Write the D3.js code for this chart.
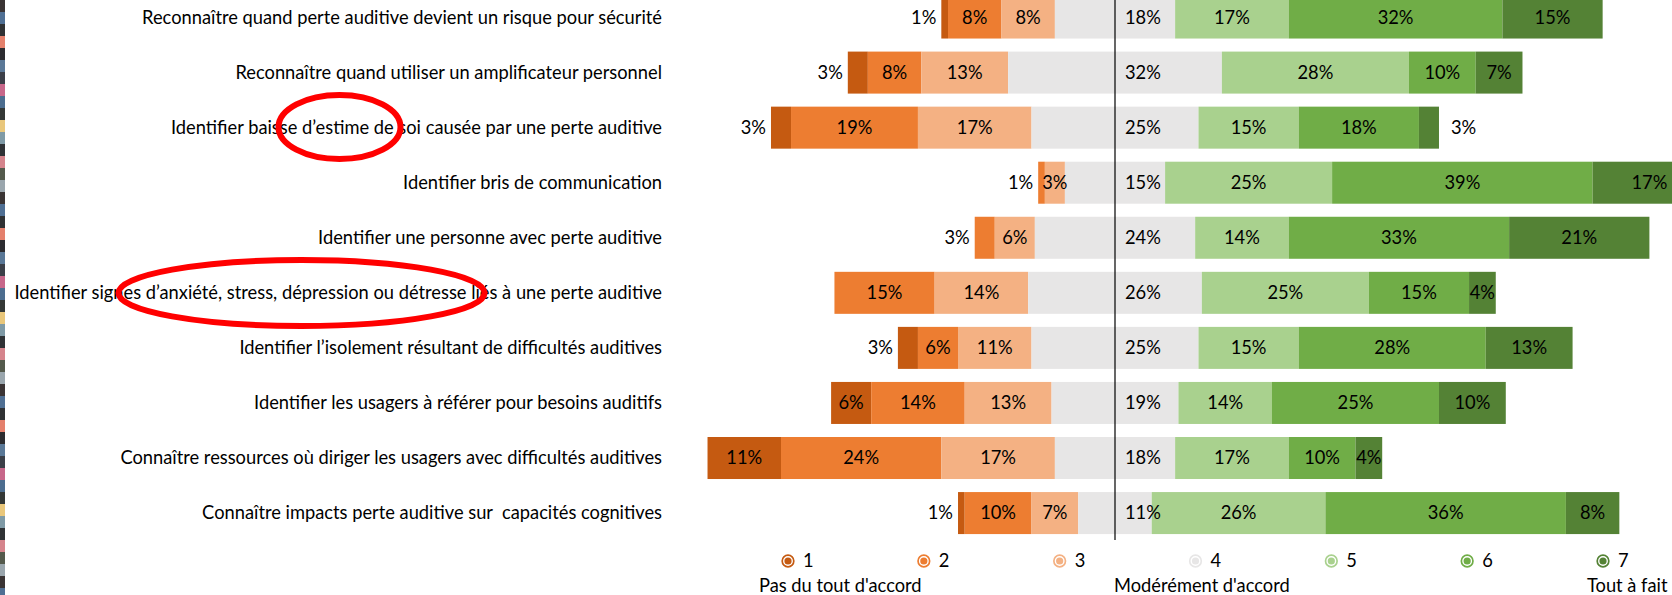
<!DOCTYPE html>
<html>
<head>
<meta charset="utf-8">
<script src="https://cdn.jsdelivr.net/npm/d3@7"></script>
<style>
  body { margin: 0; background: #fff; }
  svg { display: block; font-family: Lato, "Open Sans", sans-serif; }
</style>
</head>
<body>
<div id="chart"></div>
<script>
// categories, top to bottom
var categories = [
  "Reconnaître quand perte auditive devient un risque pour sécurité",
  "Reconnaître quand utiliser un amplificateur personnel",
  "Identifier baisse d’estime de soi causée par une perte auditive",
  "Identifier bris de communication",
  "Identifier une personne avec perte auditive",
  "Identifier signes d’anxiété, stress, dépression ou détresse liés à une perte auditive",
  "Identifier l’isolement résultant de difficultés auditives",
  "Identifier les usagers à référer pour besoins auditifs",
  "Connaître ressources où diriger les usagers avec difficultés auditives",
  "Connaître impacts perte auditive sur  capacités cognitives"
];

// % of answers for each level of the 1-7 scale
var level1 = [1, 3, 3, 0, 0, 0, 3, 6, 11, 1];
var level2 = [8, 8, 19, 1, 3, 15, 6, 14, 24, 10];
var level3 = [8, 13, 17, 3, 6, 14, 11, 13, 17, 7];
var level4 = [18, 32, 25, 15, 24, 26, 25, 19, 18, 11];
var level5 = [17, 28, 15, 25, 14, 25, 15, 14, 17, 26];
var level6 = [32, 10, 18, 39, 33, 15, 28, 25, 10, 36];
var level7 = [15, 7, 3, 17, 21, 4, 13, 10, 4, 8];

var keys = ["1", "2", "3", "4", "5", "6", "7"];
var colors = ["#C55A11", "#ED7D31", "#F4B183", "#E7E6E6", "#A9D18E", "#70AD47", "#548235"];
var scaleLabels = ["Pas du tout d'accord", "Modérément d'accord", "Tout à fait"];

var levels = [level1, level2, level3, level4, level5, level6, level7];
var rows = categories.map(function(c, i) {
  var r = { label: c };
  keys.forEach(function(k, j) { r[k] = levels[j][i]; });
  // where the stack starts: everything left of the middle of level 4
  r.offset = r["1"] + r["2"] + r["3"] + r["4"] / 2;
  return r;
});

var width = 1672;
var height = 595;
var pxPerPct = 6.68;
var center = 1115;
var fontSize = 18.3;

var svg = d3.select("#chart")
  .append("svg")
  .attr("width", width)
  .attr("height", height);

svg.append("rect").attr("width", width).attr("height", height).attr("fill", "#fff");

// scales
var x = d3.scaleLinear()
  .domain([-60, 80])
  .range([center - 60 * pxPerPct, center + 80 * pxPerPct]);

var y = d3.scaleBand()
  .domain(categories)
  .range([-10, 540.6])
  .paddingInner(0.237)
  .paddingOuter(0.1185);

var color = d3.scaleOrdinal().domain(keys).range(colors);

var stacked = d3.stack().keys(keys)(rows);

// bars
var layers = svg.selectAll("g.layer")
  .data(stacked)
  .enter()
  .append("g")
  .attr("class", "layer")
  .attr("fill", function(d) { return color(d.key); });

layers.selectAll("rect")
  .data(function(d) { return d.filter(function(s) { return s[1] > s[0]; }); })
  .enter()
  .append("rect")
  .attr("x", function(s) { return x(s[0] - s.data.offset); })
  .attr("y", function(s) { return y(s.data.label); })
  .attr("width", function(s) { return x(s[1] - s.data.offset) - x(s[0] - s.data.offset); })
  .attr("height", y.bandwidth());

// data labels, on top of every bar
function firstKey(r) {
  for (var j = 0; j < keys.length; j++) if (r[keys[j]] > 0) return keys[j];
}

var segs = [];
stacked.forEach(function(layer) {
  layer.forEach(function(s) {
    if (s[1] > s[0]) segs.push({ key: layer.key, s: s });
  });
});

svg.append("g")
  .selectAll("text")
  .data(segs)
  .enter()
  .append("text")
  .text(function(d) { return (d.s[1] - d.s[0]) + "%"; })
  .attr("y", function(d) { return y(d.s.data.label) + y.bandwidth() / 2; })
  .attr("dy", "0.35em")
  .attr("font-size", fontSize)
  .attr("fill", "#000")
  .each(function(d) {
    var s = d.s;
    var v = s[1] - s[0];
    var x0 = x(s[0] - s.data.offset);
    var x1 = x(s[1] - s.data.offset);
    var t = d3.select(this);
    if (d.key === "4") {
      t.attr("x", x(0) + 10).attr("text-anchor", "start");
    } else if (v <= 3 && d.key === firstKey(s.data)) {
      t.attr("x", x0 - 5).attr("text-anchor", "end");
    } else if (v <= 3 && d.key === "7") {
      t.attr("x", x1 + 12).attr("text-anchor", "start");
    } else {
      t.attr("x", (x0 + x1) / 2).attr("text-anchor", "middle");
    }
  });

// centre line
svg.append("line")
  .attr("x1", x(0)).attr("x2", x(0))
  .attr("y1", 0).attr("y2", 540)
  .attr("stroke", "#000")
  .attr("stroke-width", 1.2);

// category labels
svg.append("g")
  .selectAll("text")
  .data(categories)
  .enter()
  .append("text")
  .attr("x", 662)
  .attr("y", function(d) { return y(d) + y.bandwidth() / 2; })
  .attr("dy", "0.35em")
  .attr("text-anchor", "end")
  .attr("font-size", fontSize)
  .attr("fill", "#000")
  .style("white-space", "pre")
  .text(function(d) { return d; });

// legend
var lx = d3.scalePoint().domain(keys).range([788, 1603]);
var legend = svg.append("g")
  .selectAll("g")
  .data(keys)
  .enter()
  .append("g")
  .attr("transform", function(d) { return "translate(" + lx(d) + ",561)"; });

legend.append("circle")
  .attr("r", 5.8)
  .attr("fill", "#fff")
  .attr("stroke", function(d) { return color(d); })
  .attr("stroke-width", 1.7);

legend.append("circle")
  .attr("r", 3.6)
  .attr("fill", function(d) { return color(d); });

legend.append("text")
  .attr("x", 15)
  .attr("dy", "0.35em")
  .attr("font-size", fontSize)
  .text(function(d) { return d; });

var scalePos = [lx("1") - 29, x(0) - 1, lx("7") - 16];
svg.append("g")
  .selectAll("text")
  .data(scaleLabels)
  .enter()
  .append("text")
  .attr("x", function(d, i) { return scalePos[i]; })
  .attr("y", 592)
  .attr("font-size", fontSize)
  .text(function(d) { return d; });

// red annotation circles drawn on the picture
svg.append("ellipse")
  .attr("cx", 339.5).attr("cy", 127).attr("rx", 61).attr("ry", 32)
  .attr("fill", "none").attr("stroke", "#FF0000").attr("stroke-width", 6);
svg.append("ellipse")
  .attr("cx", 301.5).attr("cy", 293).attr("rx", 183).attr("ry", 33)
  .attr("fill", "none").attr("stroke", "#FF0000").attr("stroke-width", 6);

// strip of a neighbouring picture on the left edge
var stripColors = ["#3a3434", "#4f6f93", "#2f3133", "#e4806c", "#2c2c30", "#5a7897", "#3b3f48", "#c7678a", "#4c6d8f", "#343836", "#e9c77b", "#7f9aa6", "#2f3235", "#d5848c", "#545a4c", "#9aa6ad"];
svg.append("g")
  .selectAll("rect")
  .data(d3.range(50))
  .enter()
  .append("rect")
  .attr("x", 0)
  .attr("y", function(i) { return i * 12; })
  .attr("width", 5)
  .attr("height", 12)
  .attr("fill", function(i) { return stripColors[i % stripColors.length]; });
</script>
</body>
</html>
